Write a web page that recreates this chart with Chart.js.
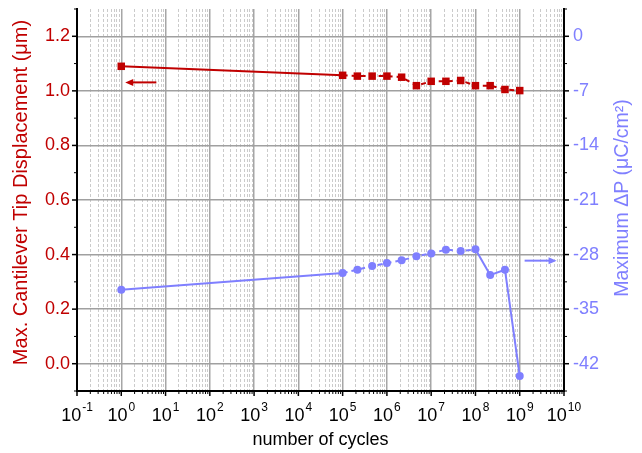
<!DOCTYPE html>
<html><head><meta charset="utf-8">
<script src="https://cdn.jsdelivr.net/npm/chart.js@4"></script>
<style>html,body{margin:0;padding:0;background:#fff}canvas{display:block}</style>
</head><body>
<canvas id="c" width="642" height="453"></canvas>
<script>
// ---- data ----
const cycles = [1, 1e5, 2.15e5, 4.64e5, 1e6, 2.15e6, 4.64e6, 1e7, 2.15e7, 4.64e7, 1e8, 2.15e8, 4.64e8, 1e9];
const displacement = [1.090, 1.057, 1.054, 1.054, 1.054, 1.050, 1.019, 1.035, 1.035, 1.038, 1.019, 1.019, 1.005, 1.001];
const deltaP = [-32.50, -30.37, -29.94, -29.48, -29.09, -28.74, -28.23, -27.85, -27.37, -27.55, -27.33, -30.63, -29.94, -43.59];
const xExponents = [-1, 0, 1, 2, 3, 4, 5, 6, 7, 8, 9, 10];
const leftTickLabels = [0.0, 0.2, 0.4, 0.6, 0.8, 1.0, 1.2];
const rightTickLabels = [0, -7, -14, -21, -28, -35, -42];
const leftTitle = 'Max. Cantilever Tip Displacement (\u03bcm)';
const rightTitle = 'Maximum \u0394P (\u03bcC/cm\u00b2)';
const xTitle = 'number of cycles';
// arrows (data units)
const arrowRed = {from: 6.2, to: 1.23, y: 1.031, axis: 'y'};
const arrowBlue = {from: 1.29e9, to: 6.8e9, y: -28.78, axis: 'y2'};

const RED = '#c00000', BLUE = '#7f7fff';
const FONT = "'Liberation Sans', Arial, sans-serif";
Chart.defaults.font.family = FONT;

// tick sets
const xAllTicks = [];
for (let e = -1; e <= 10; e++) {
  for (let m = 1; m <= 9; m++) {
    const v = m * Math.pow(10, e);
    if (v <= 1.0000001e10) xAllTicks.push({v, major: m === 1});
    if (e === 10) break;
  }
}
const leftAll = [];
for (let i = -1; i <= 13; i++) leftAll.push({v: i / 10, major: i % 2 === 0});
const rightAll = [];
for (let i = -13; i <= 1; i++) rightAll.push({v: i * 3.5, major: i % 2 === 0});

const isMajorLeft = v => Math.abs(Math.round(v * 10)) % 2 === 0;
const isMajorRight = v => Math.abs(Math.round(v / 3.5)) % 2 === 0;
const isPow10 = v => Math.abs(Math.log10(v) - Math.round(Math.log10(v))) < 1e-6;

const decor = {
  id: 'decor',
  afterDraw(chart) {
    const ctx = chart.ctx, ca = chart.chartArea;
    const xs = chart.scales.x, yl = chart.scales.y, yr = chart.scales.y2;
    ctx.save();
    ctx.strokeStyle = '#000';
    // tick marks
    xAllTicks.forEach(t => {
      const px = xs.getPixelForValue(t.v);
      ctx.lineWidth = t.major ? 1.5 : 1;
      ctx.beginPath(); ctx.moveTo(px, ca.bottom); ctx.lineTo(px, ca.bottom + (t.major ? 5 : 3)); ctx.stroke();
    });
    leftAll.forEach(t => {
      const py = yl.getPixelForValue(t.v);
      ctx.lineWidth = t.major ? 1.5 : 1;
      ctx.beginPath(); ctx.moveTo(ca.left, py); ctx.lineTo(ca.left - (t.major ? 5 : 3), py); ctx.stroke();
    });
    rightAll.forEach(t => {
      const py = yr.getPixelForValue(t.v);
      ctx.lineWidth = t.major ? 1.5 : 1;
      ctx.beginPath(); ctx.moveTo(ca.right, py); ctx.lineTo(ca.right + (t.major ? 5 : 3), py); ctx.stroke();
    });
    // x tick labels with superscript exponents
    ctx.fillStyle = '#000';
    ctx.textBaseline = 'alphabetic';
    ctx.textAlign = 'left';
    xExponents.forEach(e => {
      const px = xs.getPixelForValue(Math.pow(10, e));
      ctx.font = '18px ' + FONT;
      const w1 = ctx.measureText('10').width;
      ctx.font = '12px ' + FONT;
      const exp = String(e);
      const w2 = ctx.measureText(exp).width;
      const start = px - (w1 + w2 + 1) / 2;
      ctx.font = '18px ' + FONT;
      ctx.fillText('10', start, 421);
      ctx.font = '12px ' + FONT;
      ctx.fillText(exp, start + w1 + 1, 411);
    });
    // axis titles
    ctx.textAlign = 'center';
    ctx.textBaseline = 'middle';
    ctx.font = '18px ' + FONT;
    ctx.fillStyle = '#000';
    ctx.fillText(xTitle, (ca.left + ca.right) / 2, 440);
    ctx.save();
    ctx.font = '20px ' + FONT;
    ctx.translate(21, 192.5); ctx.rotate(-Math.PI / 2);
    ctx.fillStyle = RED; ctx.fillText(leftTitle, 0, 0);
    ctx.restore();
    ctx.save();
    ctx.font = '19.5px ' + FONT;
    ctx.translate(623, 198); ctx.rotate(-Math.PI / 2);
    ctx.fillStyle = BLUE; ctx.fillText(rightTitle, 0, 0);
    ctx.restore();
    // arrows
    [[arrowRed, RED], [arrowBlue, BLUE]].forEach(([a, col]) => {
      const ys = chart.scales[a.axis];
      const x1 = xs.getPixelForValue(a.from), x2 = xs.getPixelForValue(a.to), py = ys.getPixelForValue(a.y);
      const dir = Math.sign(x2 - x1);
      ctx.strokeStyle = col; ctx.fillStyle = col; ctx.lineWidth = 2;
      ctx.beginPath(); ctx.moveTo(x1, py); ctx.lineTo(x2 - dir * 5, py); ctx.stroke();
      ctx.beginPath(); ctx.moveTo(x2, py); ctx.lineTo(x2 - dir * 8, py - 3.5); ctx.lineTo(x2 - dir * 8, py + 3.5); ctx.closePath(); ctx.fill();
    });
    ctx.restore();
  }
};

const noPad = s => { s.paddingTop = 0; s.paddingBottom = 0; };

new Chart(document.getElementById('c'), {
  type: 'line',
  data: {
    datasets: [
      {
        data: cycles.map((c, i) => ({x: c, y: displacement[i]})),
        yAxisID: 'y',
        borderColor: RED, backgroundColor: RED,
        borderWidth: 2, pointStyle: 'rect', pointRadius: 5.3,
        pointBorderWidth: 0,
        segment: { borderDash: c => c.p0DataIndex >= 1 ? [5, 4] : [] }
      },
      {
        data: cycles.map((c, i) => ({x: c, y: deltaP[i]})),
        yAxisID: 'y2',
        borderColor: BLUE, backgroundColor: BLUE,
        borderWidth: 2, pointStyle: 'circle', pointRadius: 4,
        pointBorderWidth: 0,
        segment: { borderDash: c => (c.p0DataIndex >= 1 && c.p0DataIndex < 10) ? [5, 4] : [] }
      }
    ]
  },
  options: {
    responsive: false,
    animation: false,
    layout: { padding: { top: 9, left: 0, right: 0, bottom: 0 } },
    plugins: { legend: { display: false }, tooltip: { enabled: false } },
    scales: {
      x: {
        type: 'logarithmic', min: 0.1, max: 1e10,
        afterBuildTicks: s => { s.ticks = xAllTicks.map(t => ({value: t.v})); },
        afterFit: s => { s.height = 62; s.paddingLeft = 0; s.paddingRight = 0; },
        ticks: { display: false, autoSkip: false },
        grid: {
          drawTicks: false,
          color: c => (c.tick && isPow10(c.tick.value)) ? '#a6a6a6' : '#cbcbcb',
          lineWidth: c => (c.tick && isPow10(c.tick.value)) ? 1.5 : 1
        },
        border: { display: true, color: '#000', width: 2,
          dash: c => (c.tick && isPow10(c.tick.value)) ? [] : [3, 2] }
      },
      y: {
        position: 'left', min: -0.1, max: 1.3,
        afterBuildTicks: s => { s.ticks = leftAll.map(t => ({value: t.v})); },
        afterFit: s => { s.width = 77; noPad(s); },
        ticks: {
          autoSkip: false, padding: 7, color: RED, font: { size: 18 },
          callback: v => (isMajorLeft(v) && leftTickLabels.some(l => Math.abs(l - v) < 1e-6)) ? v.toFixed(1) : ''
        },
        grid: {
          drawTicks: false,
          color: c => (c.tick && isMajorLeft(c.tick.value) && c.tick.value > -0.05 && c.tick.value < 1.25) ? '#a0a0a0' : 'rgba(0,0,0,0)',
          lineWidth: 1.5
        },
        border: { display: true, color: '#000', width: 2 }
      },
      y2: {
        position: 'right', min: -45.5, max: 3.5,
        afterBuildTicks: s => { s.ticks = rightAll.map(t => ({value: t.v})); },
        afterFit: s => { s.width = 78; noPad(s); },
        ticks: {
          autoSkip: false, padding: 9, color: BLUE, font: { size: 18 },
          callback: v => (isMajorRight(v) && rightTickLabels.some(l => Math.abs(l - v) < 1e-6)) ? String(Math.round(v)) : ''
        },
        grid: { drawTicks: false, drawOnChartArea: false },
        border: { display: true, color: '#000', width: 2 }
      }
    }
  },
  plugins: [decor]
});
</script>
</body></html>
